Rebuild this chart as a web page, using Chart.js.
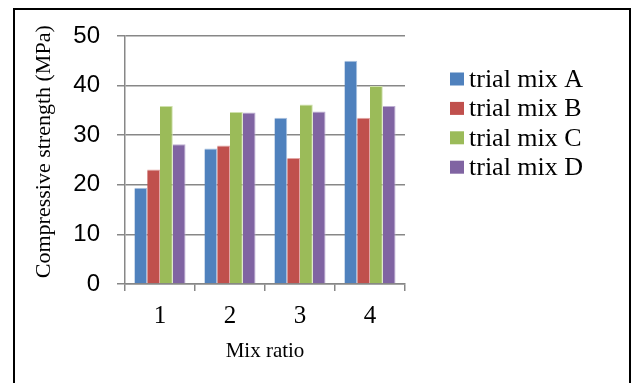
<!DOCTYPE html>
<html>
<head>
<meta charset="utf-8">
<script src="https://cdn.jsdelivr.net/npm/chart.js@4.4.1/dist/chart.umd.min.js"></script>
<style>
  html, body { margin: 0; padding: 0; background: #fff; }
  canvas { display: block; }
</style>
</head>
<body>
<canvas id="chart" width="637" height="383"></canvas>
<script>
// Mix ratios on the x axis
const mixRatios = ['1', '2', '3', '4'];
// Series names
const seriesNames = ['trial mix A', 'trial mix B', 'trial mix C', 'trial mix D'];
// Compressive strength (MPa) per mix ratio
const mixA = [19.4, 27.3, 33.5, 45.0];
const mixB = [23.1, 27.9, 25.4, 33.5];
const mixC = [35.9, 34.7, 36.2, 39.9];
const mixD = [28.2, 34.6, 34.8, 35.9];
// Value axis range
const yMin = 0, yMax = 50, yStep = 10;

const fills = ['#4F81BD', '#C0504D', '#9BBB59', '#8064A2'];
const edges = ['#A9C2E0', '#E2A6A4', '#CFE1AC', '#BDAED2'];
const gridGray = '#878787';
const serif = '"Liberation Serif", "Times New Roman", serif';
const sans = '"Liberation Sans", Arial, sans-serif';

const seriesValues = [mixA, mixB, mixC, mixD];

const datasets = seriesValues.map((vals, i) => ({
  label: seriesNames[i],
  data: vals,
  backgroundColor: fills[i],
  borderColor: edges[i],
  borderWidth: { top: 1, right: 1, left: 0, bottom: 0 },
  categoryPercentage: 0.73,
  barPercentage: 1.0
}));

// Outer frame around the figure
const framePlugin = {
  id: 'frame',
  afterDraw(chart) {
    const ctx = chart.ctx;
    ctx.save();
    ctx.strokeStyle = '#000';
    ctx.lineWidth = 2;
    ctx.strokeRect(14, 9, 616, 420);
    ctx.restore();
  }
};

// Legend block to the right of the plot
const sideLegend = {
  id: 'sideLegend',
  afterDraw(chart) {
    const ctx = chart.ctx;
    const x0 = 450, y0 = 79, rowGap = 29.4;
    ctx.save();
    ctx.font = '26px ' + serif;
    ctx.textBaseline = 'alphabetic';
    ctx.textAlign = 'left';
    chart.data.datasets.forEach((ds, i) => {
      const cy = y0 + i * rowGap;
      ctx.fillStyle = ds.backgroundColor;
      ctx.fillRect(x0, cy - 6.5, 14, 13);
      ctx.fillStyle = '#000';
      ctx.fillText(ds.label, x0 + 19, cy + 8);
    });
    ctx.restore();
  }
};

new Chart(document.getElementById('chart'), {
  type: 'bar',
  data: { labels: mixRatios, datasets },
  options: {
    responsive: false,
    animation: false,
    layout: { padding: { top: 36, right: 232, left: 0, bottom: 0 } },
    plugins: {
      legend: { display: false },
      tooltip: { enabled: false }
    },
    scales: {
      x: {
        grid: {
          offset: true,
          drawOnChartArea: false,
          drawTicks: true,
          tickLength: 7,
          color: gridGray,
          lineWidth: 1.5
        },
        border: { color: gridGray, width: 1.5 },
        ticks: {
          color: '#000',
          font: { family: serif, size: 25 },
          padding: 10
        },
        title: {
          display: true,
          text: 'Mix ratio',
          color: '#000',
          font: { family: serif, size: 21 },
          padding: { top: 0, bottom: 19 }
        },
        afterFit(scale) { scale.height = 99; }
      },
      y: {
        min: yMin,
        max: yMax,
        ticks: {
          stepSize: yStep,
          color: '#000',
          font: { family: sans, size: 24 },
          padding: 17
        },
        grid: {
          color: gridGray,
          lineWidth: 1.5,
          tickLength: 8,
          drawTicks: true
        },
        border: { color: gridGray, width: 1.5 },
        title: {
          display: true,
          // leading spaces lift the centred title a little towards the top
          text: '   Compressive strength (MPa)',
          color: '#000',
          font: { family: serif, size: 22 },
          padding: { top: 31, bottom: 0 }
        },
        afterFit(scale) { scale.width = 125; }
      }
    }
  },
  plugins: [framePlugin, sideLegend]
});
</script>
</body>
</html>
